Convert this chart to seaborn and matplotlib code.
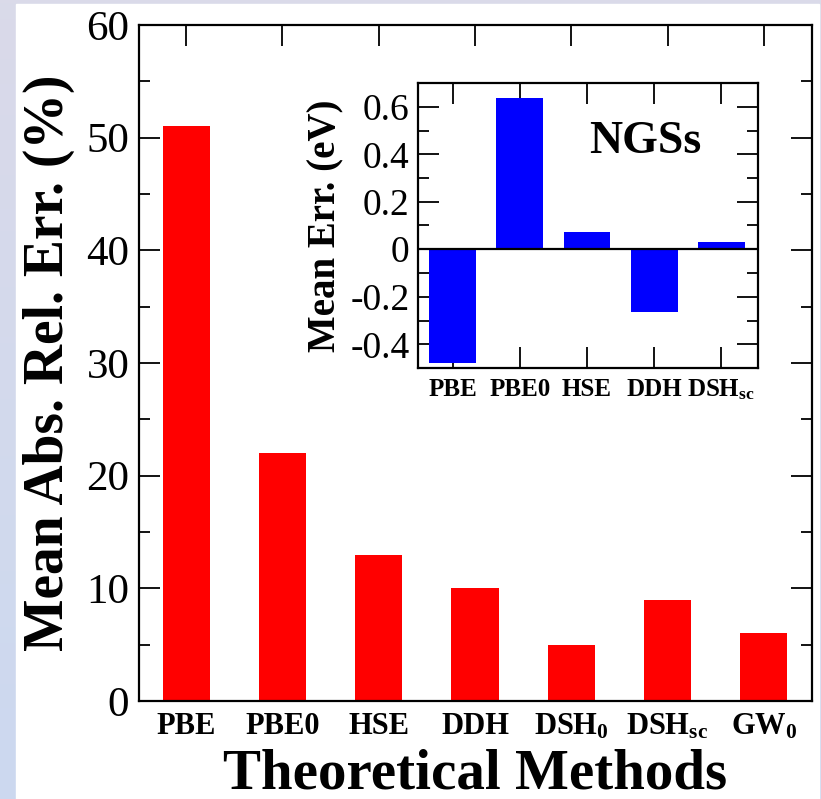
import numpy as np
import pandas as pd
import matplotlib
matplotlib.use("Agg")
import matplotlib.pyplot as plt
import seaborn as sns
from matplotlib.patches import Rectangle
from matplotlib.ticker import MultipleLocator

# ---- data ----
main_methods = ["PBE", "PBE0", "HSE", "DDH", "DSH$_0$", "DSH$_{sc}$", "GW$_0$"]
main_mare = [51, 22, 13, 10, 5, 9, 6]
main_yticks = [0, 10, 20, 30, 40, 50, 60]

inset_methods = ["PBE", "PBE0", "HSE", "DDH", "DSH$_{sc}$"]
inset_me = [-0.48, 0.635, 0.072, -0.266, 0.032]
inset_yticks = [-0.4, -0.2, 0, 0.2, 0.4, 0.6]
inset_yticklabels = ["-0.4", "-0.2", "0", "0.2", "0.4", "0.6"]

sns.set_style("ticks")
plt.rcParams["font.family"] = ["Liberation Serif", "DejaVu Serif"]
plt.rcParams["mathtext.fontset"] = "custom"
plt.rcParams["mathtext.rm"] = "Liberation Serif:bold"
plt.rcParams["mathtext.bf"] = "Liberation Serif:bold"
plt.rcParams["mathtext.it"] = "Liberation Serif:bold"
plt.rcParams["mathtext.default"] = "bf"
for k in ["text.color", "axes.labelcolor", "xtick.color", "ytick.color", "axes.edgecolor"]:
    plt.rcParams[k] = "black"

fig = plt.figure(figsize=(8.21, 7.99), dpi=100)

# background gradient + white panel
bg = fig.add_axes([0, 0, 1, 1], zorder=-10)
grad = np.linspace(0, 1, 256).reshape(-1, 1)
top_c = np.array([0.855, 0.855, 0.915])
bot_c = np.array([0.80, 0.85, 0.94])
img = top_c[None, None, :] * (1 - grad[:, :, None]) + bot_c[None, None, :] * grad[:, :, None]
bg.imshow(img, aspect="auto", extent=[0, 1, 0, 1])
bg.add_patch(Rectangle((16 / 821, 0), 1 - 18 / 821, 1 - 4 / 799, color="white"))
bg.set_xlim(0, 1)
bg.set_ylim(0, 1)
bg.axis("off")

# ---- main axes ----
ax = fig.add_axes([139 / 821, 1 - 701 / 799, (812 - 139) / 821, (701 - 25) / 799])
df_main = pd.DataFrame({"method": main_methods, "mare": main_mare})
sns.barplot(data=df_main, x="method", y="mare", color="#ff0000", saturation=1,
            width=0.49, ax=ax, edgecolor="none")
ax.set_xlim(-0.49, 6.5)
ax.set_ylim(0, 60)
ax.set_yticks(main_yticks)
ax.yaxis.set_minor_locator(MultipleLocator(5))
for s in ax.spines.values():
    s.set_visible(True)
    s.set_linewidth(1.6)
    s.set_color("black")
ax.tick_params(axis="both", which="major", direction="in", length=15, width=1.3,
               top=True, right=True, color="black", labelcolor="black")
ax.tick_params(axis="y", which="minor", direction="in", length=8, width=1.3, right=True,
               color="black")
ax.tick_params(axis="y", which="major", labelsize=31, pad=7)
ax.tick_params(axis="x", which="major", labelsize=22, pad=8)
for lab in ax.get_xticklabels():
    lab.set_fontweight("bold")
ax.set_xlabel("Theoretical Methods", fontsize=41, fontweight="bold", labelpad=5,
              color="black")
ax.set_ylabel("Mean Abs. Rel. Err. (%)", fontsize=40, fontweight="bold", labelpad=8,
              color="black")

# ---- inset axes ----
axi = fig.add_axes([418 / 821, 1 - 368 / 799, (758 - 418) / 821, (368 - 83) / 799])
df_in = pd.DataFrame({"method": inset_methods, "me": inset_me})
sns.barplot(data=df_in, x="method", y="me", color="#0000ff", saturation=1,
            width=0.7, ax=axi, edgecolor="none")
axi.set_xlim(-0.52, 4.55)
axi.set_ylim(-0.5, 0.7)
axi.set_yticks(inset_yticks)
axi.set_yticklabels(inset_yticklabels)
axi.yaxis.set_minor_locator(MultipleLocator(0.1))
axi.axhline(0, color="black", lw=1.6, zorder=5)
for s in axi.spines.values():
    s.set_visible(True)
    s.set_linewidth(1.6)
    s.set_color("black")
axi.tick_params(axis="both", which="major", direction="in", length=15, width=1.3,
                top=True, right=True, color="black", labelcolor="black")
axi.tick_params(axis="y", which="minor", direction="in", length=8, width=1.3, right=True,
                color="black")
axi.tick_params(axis="y", which="major", labelsize=27, pad=6)
axi.tick_params(axis="x", which="major", labelsize=18, pad=7)
for lab in axi.get_xticklabels():
    lab.set_fontweight("bold")
axi.set_xlabel("")
axi.set_ylabel("Mean Err. (eV)", fontsize=28, fontweight="bold", labelpad=4, color="black")
axi.text(0.668, 0.754, "NGSs", transform=axi.transAxes, ha="center", va="baseline",
         fontsize=33, fontweight="bold", color="black")

fig.savefig("out.png", dpi=100)
